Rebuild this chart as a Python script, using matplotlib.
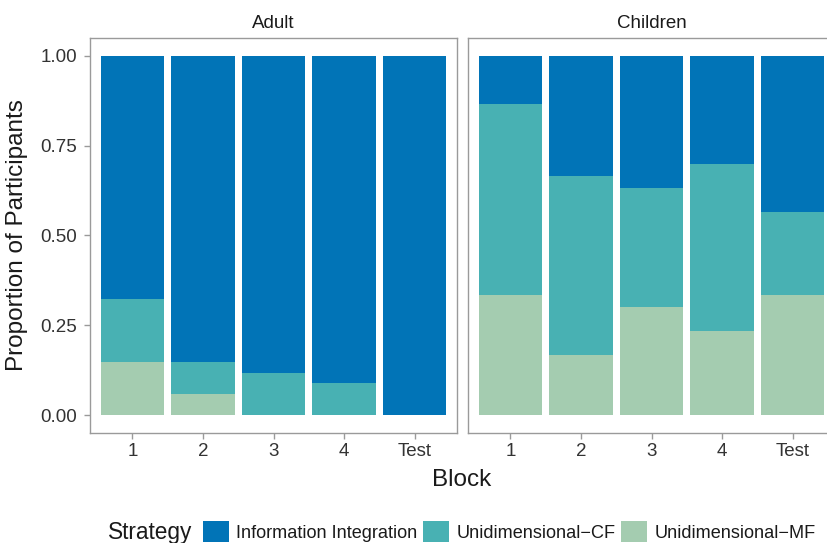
import matplotlib
matplotlib.use("Agg")
import matplotlib.pyplot as plt
from matplotlib.patches import Patch
import numpy as np

plt.rcParams['font.family'] = ['Liberation Sans', 'DejaVu Sans']

blocks = ["1", "2", "3", "4", "Test"]
panels = ["Adult", "Children"]
strategies = ["Information Integration", "Unidimensional\u2212CF", "Unidimensional\u2212MF"]
colors = ["#0174B7", "#48B1B3", "#A4CCB0"]

adult_mf = [0.147, 0.059, 0.0, 0.0, 0.0]
adult_cf = [0.176, 0.088, 0.118, 0.088, 0.0]
adult_ii = [0.677, 0.853, 0.882, 0.912, 1.0]

child_mf = [0.333, 0.167, 0.300, 0.233, 0.333]
child_cf = [0.533, 0.500, 0.333, 0.467, 0.233]
child_ii = [0.134, 0.333, 0.367, 0.300, 0.434]

data = {"Adult": (adult_mf, adult_cf, adult_ii),
        "Children": (child_mf, child_cf, child_ii)}

W, H = 828, 543
fig = plt.figure(figsize=(W / 100, H / 100), dpi=100)

def ax_rect(x0, x1, ytop, ybot):
    return [x0 / W, 1 - ybot / H, (x1 - x0) / W, (ybot - ytop) / H]

rects = {"Adult": ax_rect(90, 457, 38, 433), "Children": ax_rect(468, 835, 38, 433)}
edge = "#9a9a9a"
tickc = "#333333"

for i, p in enumerate(panels):
    ax = fig.add_axes(rects[p])
    mf, cf, ii = data[p]
    x = np.arange(1, len(blocks) + 1)
    mf = np.array(mf); cf = np.array(cf); ii = np.array(ii)
    ax.bar(x, mf, width=0.9, color=colors[2], linewidth=0)
    ax.bar(x, cf, width=0.9, bottom=mf, color=colors[1], linewidth=0)
    ax.bar(x, ii, width=0.9, bottom=mf + cf, color=colors[0], linewidth=0)
    ax.set_xlim(0.4, 5.6)
    ax.set_ylim(-0.05, 1.05)
    ax.set_xticks(x)
    ax.set_xticklabels(blocks)
    for s in ax.spines.values():
        s.set_color(edge)
        s.set_linewidth(1.0)
    ax.tick_params(colors=edge, labelcolor=tickc, labelsize=13.5, length=4, width=1, pad=3)
    ax.tick_params(axis='y', pad=5)
    ax.set_yticks([0, 0.25, 0.5, 0.75, 1.0])
    if i == 0:
        ax.set_yticklabels(["0.00", "0.25", "0.50", "0.75", "1.00"])
        ax.set_ylabel("Proportion of Participants", fontsize=17.5, color="#1a1a1a")
        ax.yaxis.set_label_coords(-0.17, 0.5)
    else:
        ax.tick_params(axis='y', length=0, labelleft=False)
    ax.set_title(p, fontsize=13.5, color="#1a1a1a", pad=7)

fig.text(462 / W, 1 - 480 / H, "Block", ha="center", va="center",
         fontsize=17.5, color="#1a1a1a")

fig.text(108 / W, 1 - 533 / H, "Strategy", ha="left", va="center", fontsize=16.3, color="#1a1a1a")
handles = [Patch(facecolor=c, edgecolor="none") for c in colors]
fig.legend(handles, strategies, loc="center left", bbox_to_anchor=(203 / W, 1 - 531.5 / H),
           ncol=3, frameon=False, fontsize=13.1, handlelength=1.45, handleheight=1.45,
           handletextpad=0.38, columnspacing=0.3, borderpad=0, borderaxespad=0,
           labelcolor="#1a1a1a")

fig.savefig("out.png", dpi=100)
